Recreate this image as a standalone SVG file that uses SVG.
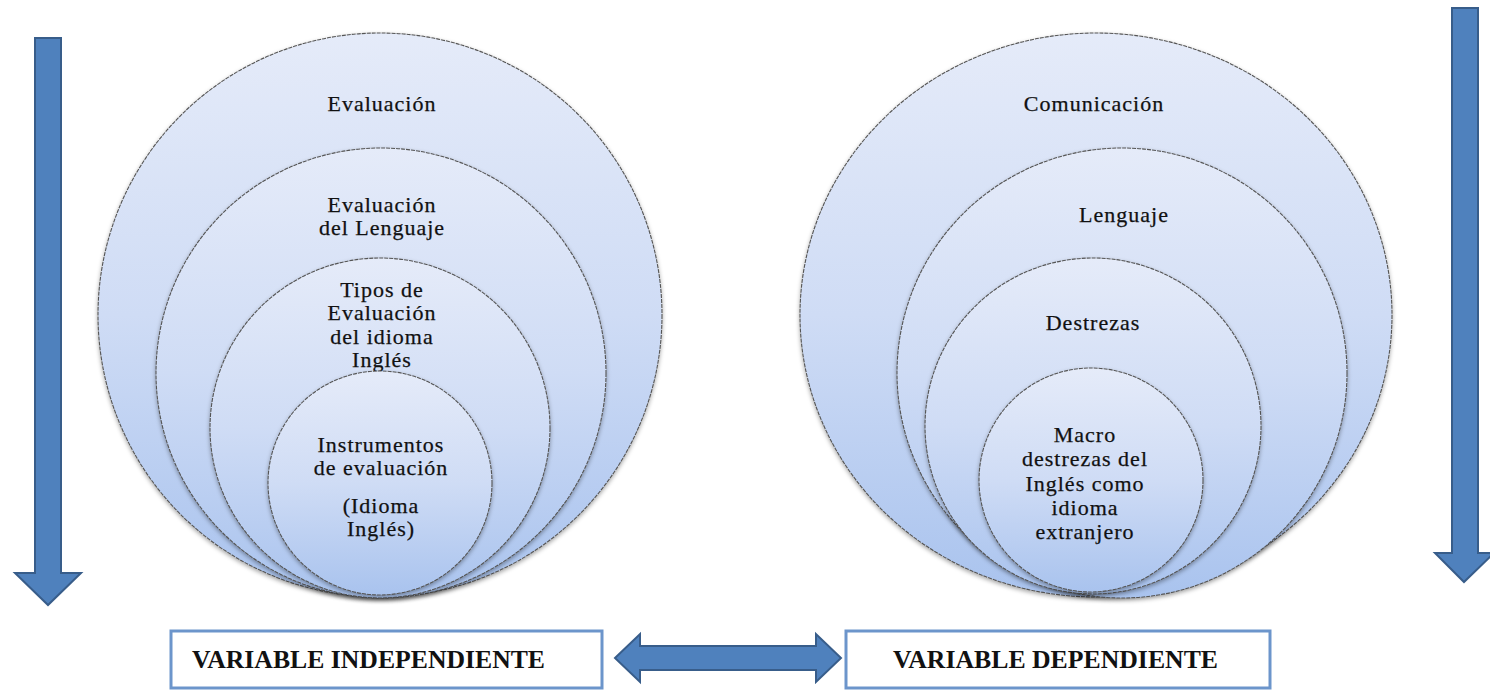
<svg xmlns="http://www.w3.org/2000/svg" width="1490" height="691" viewBox="0 0 1490 691">
<style>
.c{fill:url(#g);stroke:#555;stroke-width:1.1;stroke-dasharray:4 1;filter:url(#sh)}
.t{font-family:"Liberation Serif","Times New Roman",serif;font-size:22px;letter-spacing:1px;fill:#111;stroke:#111;stroke-width:0.25;text-anchor:middle}
.b{font-family:"Liberation Serif","Times New Roman",serif;font-size:25.5px;font-weight:bold;fill:#111}
.box{fill:#fff;stroke:#6c95cb;stroke-width:3}
.arr{fill:#4f81bd;stroke:#385d8a;stroke-width:2;stroke-linejoin:miter}
</style>
<defs>
<linearGradient id="g" x1="0" y1="0" x2="0" y2="1">
<stop offset="0" stop-color="#e5ebf9"/>
<stop offset="0.5" stop-color="#cfdcf5"/>
<stop offset="1" stop-color="#a9c3ee"/>
</linearGradient>
<filter id="sh" x="-10%" y="-10%" width="120%" height="125%">
<feDropShadow dx="0" dy="2" stdDeviation="2" flood-color="#000" flood-opacity="0.35"/>
</filter>
</defs>
<rect width="1490" height="691" fill="#fff"/>

<g id="arrow-left"><polygon class="arr" points="35,38 61,38 61,573 81,573 48,605 15,573 35,573"/></g>
<g id="arrow-right"><polygon class="arr" points="1452,8 1478,8 1478,553 1494,553 1464,582 1435,553 1452,553"/></g>

<g id="left-1"><circle class="c" cx="380" cy="315" r="282"/><text class="t" x="382" y="111">Evaluación</text></g>
<g id="left-2"><circle class="c" cx="381" cy="373" r="225"/><text class="t" x="382" y="212">Evaluación</text><text class="t" x="382" y="235">del Lenguaje</text></g>
<g id="left-3"><circle class="c" cx="380" cy="428" r="170"/><text class="t" x="382" y="297">Tipos de</text><text class="t" x="382" y="320">Evaluación</text><text class="t" x="382" y="344">del idioma</text><text class="t" x="382" y="367">Inglés</text></g>
<g id="left-4"><circle class="c" cx="380" cy="483" r="112"/><text class="t" x="381" y="452">Instrumentos</text><text class="t" x="381" y="475">de evaluación</text><text class="t" x="381" y="513">(Idioma</text><text class="t" x="381" y="536">Inglés)</text></g>

<g id="right-1"><ellipse class="c" cx="1096" cy="315" rx="296" ry="282"/><text class="t" x="1094" y="111">Comunicación</text></g>
<g id="right-2"><ellipse class="c" cx="1122" cy="373" rx="225" ry="225"/><text class="t" x="1124" y="222">Lenguaje</text></g>
<g id="right-3"><circle class="c" cx="1093" cy="426" r="168"/><text class="t" x="1093" y="330">Destrezas</text></g>
<g id="right-4"><circle class="c" cx="1091" cy="480" r="112"/><text class="t" x="1085" y="442">Macro</text><text class="t" x="1085" y="466">destrezas del</text><text class="t" x="1085" y="491">Inglés como</text><text class="t" x="1085" y="515">idioma</text><text class="t" x="1085" y="539">extranjero</text></g>

<g id="box-independiente"><rect class="box" x="171" y="631" width="431" height="57"/><text class="b" x="192" y="668" textLength="353" lengthAdjust="spacingAndGlyphs">VARIABLE INDEPENDIENTE</text></g>
<g id="box-dependiente"><rect class="box" x="846" y="631" width="424" height="57"/><text class="b" x="893" y="668" textLength="325" lengthAdjust="spacingAndGlyphs">VARIABLE DEPENDIENTE</text></g>

<g id="connectors"><polygon class="arr" points="615,658 640,634 640,646 816,646 816,634 841,658 816,682 816,670 640,670 640,682"/></g>
</svg>
